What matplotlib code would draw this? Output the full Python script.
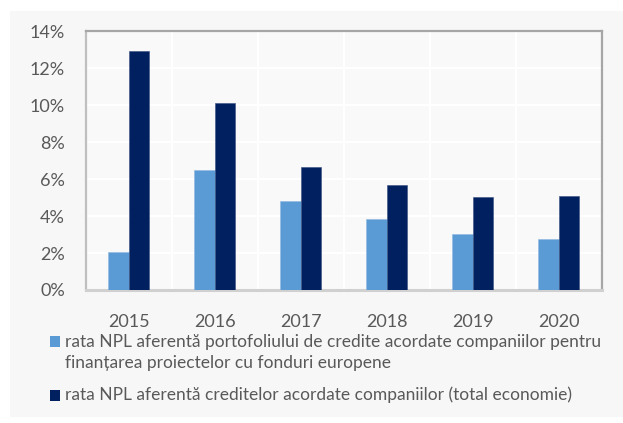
import matplotlib
matplotlib.use("Agg")
import matplotlib.pyplot as plt
from matplotlib.patches import Rectangle
import numpy as np

plt.rcParams['font.family'] = ['Lato', 'DejaVu Sans']

years = ['2015', '2016', '2017', '2018', '2019', '2020']
npl_eu_funds = [2.05, 6.48, 4.80, 3.86, 3.05, 2.78]
npl_total = [12.90, 10.13, 6.63, 5.65, 5.05, 5.08]

label_eu = ('rata NPL aferentă portofoliului de credite acordate companiilor pentru\n'
            'finanțarea proiectelor cu fonduri europene')
label_total = 'rata NPL aferentă creditelor acordate companiilor (total economie)'

c_light = '#5B9BD5'
c_dark = '#002060'
txt = '#595959'

fig = plt.figure(figsize=(6.23, 4.23), dpi=100)
fig.patch.set_facecolor('white')
# grey chart panel
fig.patches.append(Rectangle((10 / 623, 1 - 417 / 423), 613 / 623, 406 / 423,
                             transform=fig.transFigure, facecolor='#f7f7f7',
                             edgecolor='none', zorder=-5))

ax = fig.add_axes([85.7 / 623, 1 - 290 / 423, 516 / 623, 259 / 423])
ax.set_facecolor('#f9f9f9')

x = np.arange(len(years))
w = 0.24
ax.bar(x - w / 2, npl_eu_funds, w, color=c_light, edgecolor='#8fb8e0', linewidth=0.4, zorder=3)
ax.bar(x + w / 2, npl_total, w, color=c_dark, edgecolor='#3a4f80', linewidth=0.4, zorder=3)

ax.set_xlim(-0.5, len(years) - 0.5)
ax.set_ylim(0, 14)
ax.set_yticks(np.arange(0, 15, 2))
ax.set_yticklabels([f'{v}%' for v in range(0, 15, 2)])
ax.set_xticks(x)
ax.set_xticklabels(years)

# white grid: horizontal at every tick, vertical between categories
for v in range(2, 14, 2):
    ax.axhline(v, color='white', linewidth=1.6, zorder=1)
for b in np.arange(0.5, len(years) - 0.5, 1):
    ax.axvline(b, color='white', linewidth=1.6, zorder=1)

ax.tick_params(axis='both', length=0, labelsize=13, colors=txt)
ax.tick_params(axis='x', pad=17)
ax.tick_params(axis='y', pad=15)

for side in ['top', 'right']:
    ax.spines[side].set_color('#a6a6a6')
    ax.spines[side].set_linewidth(1.6)
ax.spines['left'].set_color('#bfbfbf')
ax.spines['left'].set_linewidth(1.6)
ax.spines['bottom'].set_color('#d0d0d0')
ax.spines['bottom'].set_linewidth(2.2)

# legend
def legend_item(y_top, color):
    fig.patches.append(Rectangle((50 / 623, 1 - (y_top + 10.5) / 423), 10 / 623, 10.5 / 423,
                                 transform=fig.transFigure, facecolor=color,
                                 edgecolor='none', zorder=2))

legend_item(336, c_light)
legend_item(390, c_dark)
lfs = 12.5
fig.text(65 / 623, 1 - 341.7 / 423, label_eu.split('\n')[0], fontsize=lfs, color=txt, va='center', ha='left')
fig.text(65 / 623, 1 - 363.3 / 423, label_eu.split('\n')[1], fontsize=lfs, color=txt, va='center', ha='left')
fig.text(65 / 623, 1 - 395 / 423, label_total, fontsize=lfs, color=txt, va='center', ha='left')

fig.savefig('out.png', dpi=100)
